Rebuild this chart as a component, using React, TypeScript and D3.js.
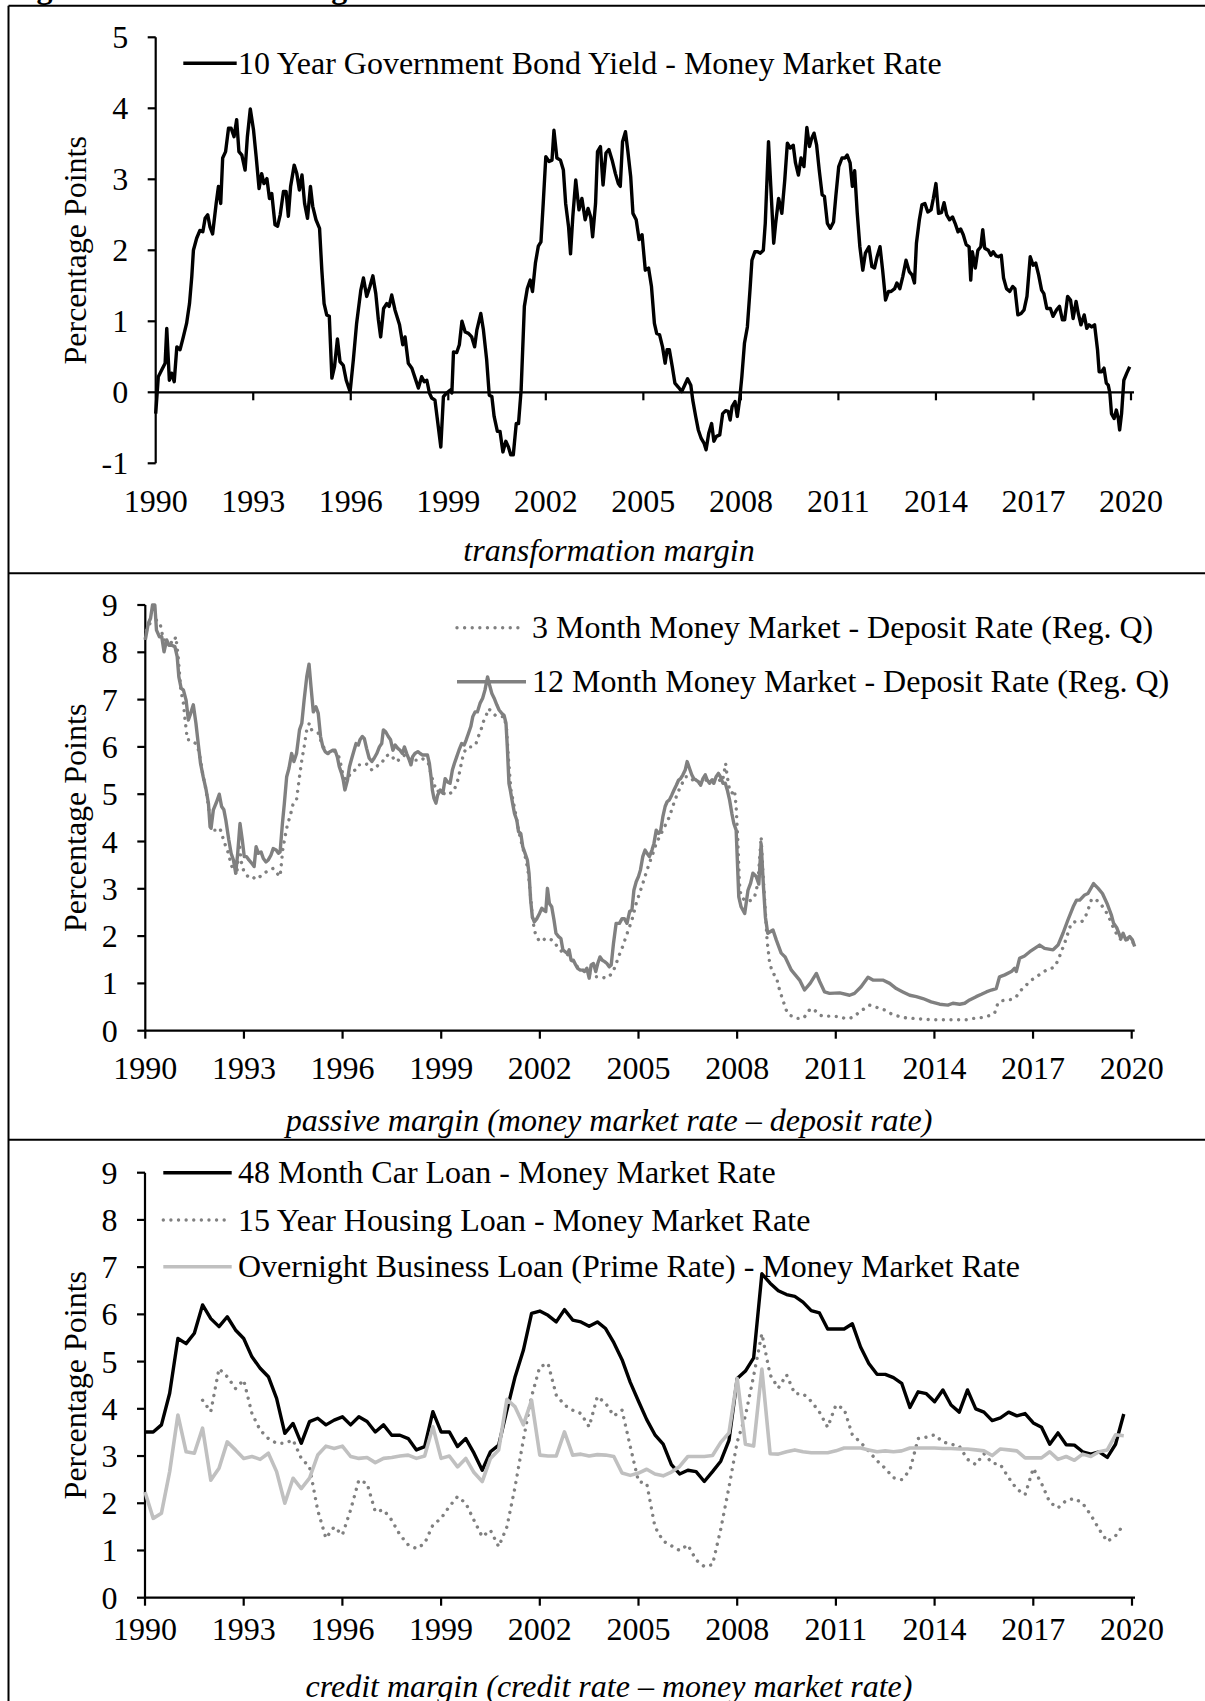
import React from "react";
import * as d3 from "d3";

const FONT = "'Liberation Serif', 'Times New Roman', Times, serif";

// ---------- data ----------
const yearTicks = [1990, 1993, 1996, 1999, 2002, 2005, 2008, 2011, 2014, 2017, 2020];
const panel1Ticks = [-1, 0, 1, 2, 3, 4, 5];
const rateTicks = [0, 1, 2, 3, 4, 5, 6, 7, 8, 9];

const legend1 = ["10 Year Government Bond Yield - Money Market Rate"];
const legend2 = ["3 Month Money Market - Deposit Rate (Reg. Q)", "12 Month Money Market - Deposit Rate (Reg. Q)"];
const legend3 = [
  "48 Month Car Loan - Money Market Rate",
  "15 Year Housing Loan - Money Market Rate",
  "Overnight Business Loan (Prime Rate) - Money Market Rate",
];
const captions = [
  "transformation margin",
  "passive margin (money market rate \u2013 deposit rate)",
  "credit margin (credit rate \u2013 money market rate)",
];

// [decimal year, percentage points]
const termSpread: [number, number][] = [
  [1990.0, -0.3], [1990.08, 0.22], [1990.18, 0.31], [1990.29, 0.41], [1990.34, 0.9], [1990.42, 0.17], [1990.49, 0.27], [1990.57, 0.15],
  [1990.65, 0.64], [1990.75, 0.6], [1990.85, 0.78], [1990.95, 0.97], [1991.04, 1.25], [1991.11, 1.63], [1991.16, 2.0], [1991.26, 2.17],
  [1991.36, 2.28], [1991.45, 2.26], [1991.52, 2.45], [1991.6, 2.5], [1991.67, 2.33], [1991.75, 2.23], [1991.86, 2.66], [1991.93, 2.9],
  [1992.0, 2.66], [1992.06, 3.3], [1992.15, 3.39], [1992.24, 3.72], [1992.32, 3.72], [1992.41, 3.6], [1992.49, 3.84], [1992.56, 3.39],
  [1992.65, 3.34], [1992.75, 3.13], [1992.82, 3.6], [1992.91, 3.99], [1993.01, 3.69], [1993.09, 3.32], [1993.18, 2.87], [1993.26, 3.08],
  [1993.33, 2.94], [1993.42, 3.01], [1993.5, 2.73], [1993.57, 2.8], [1993.67, 2.36], [1993.75, 2.34], [1993.83, 2.5], [1993.93, 2.83],
  [1994.01, 2.83], [1994.08, 2.48], [1994.15, 2.9], [1994.26, 3.2], [1994.34, 3.08], [1994.42, 2.85], [1994.5, 3.06], [1994.58, 2.66],
  [1994.67, 2.45], [1994.76, 2.9], [1994.83, 2.62], [1994.93, 2.43], [1995.04, 2.31], [1995.11, 1.72], [1995.18, 1.25], [1995.26, 1.09],
  [1995.34, 1.07], [1995.42, 0.2], [1995.5, 0.36], [1995.59, 0.75], [1995.67, 0.43], [1995.77, 0.38], [1995.86, 0.17], [1995.98, 0.01],
  [1996.08, 0.46], [1996.18, 0.97], [1996.31, 1.44], [1996.39, 1.61], [1996.49, 1.35], [1996.59, 1.49], [1996.68, 1.64], [1996.77, 1.39],
  [1996.85, 1.02], [1996.92, 0.78], [1997.01, 1.18], [1997.11, 1.25], [1997.18, 1.21], [1997.26, 1.37], [1997.36, 1.16], [1997.5, 0.95],
  [1997.6, 0.67], [1997.67, 0.78], [1997.77, 0.41], [1997.88, 0.34], [1997.98, 0.2], [1998.08, 0.06], [1998.18, 0.22], [1998.26, 0.15],
  [1998.34, 0.17], [1998.42, -0.01], [1998.49, -0.08], [1998.59, -0.11], [1998.68, -0.44], [1998.77, -0.77], [1998.85, -0.06], [1998.95, -0.01],
  [1999.06, 0.03], [1999.11, -0.01], [1999.16, 0.57], [1999.26, 0.56], [1999.34, 0.67], [1999.42, 1.0], [1999.52, 0.85], [1999.62, 0.83],
  [1999.72, 0.78], [1999.81, 0.64], [1999.88, 0.88], [2000.0, 1.11], [2000.08, 0.88], [2000.18, 0.46], [2000.26, -0.04], [2000.34, -0.06],
  [2000.41, -0.34], [2000.51, -0.55], [2000.59, -0.55], [2000.68, -0.84], [2000.77, -0.69], [2000.85, -0.77], [2000.92, -0.88], [2001.0, -0.88],
  [2001.09, -0.44], [2001.16, -0.44], [2001.24, 0.03], [2001.34, 1.21], [2001.43, 1.46], [2001.52, 1.58], [2001.59, 1.42], [2001.68, 1.82],
  [2001.77, 2.06], [2001.85, 2.12], [2001.92, 2.66], [2002.0, 3.32], [2002.1, 3.25], [2002.19, 3.27], [2002.25, 3.69], [2002.34, 3.3],
  [2002.45, 3.27], [2002.54, 3.13], [2002.61, 2.66], [2002.7, 2.33], [2002.76, 1.95], [2002.83, 2.47], [2002.92, 2.99], [2003.02, 2.57],
  [2003.11, 2.73], [2003.21, 2.43], [2003.3, 2.59], [2003.38, 2.47], [2003.44, 2.19], [2003.53, 2.66], [2003.59, 3.39], [2003.68, 3.46],
  [2003.76, 2.92], [2003.85, 3.37], [2003.94, 3.42], [2004.04, 3.27], [2004.14, 3.08], [2004.23, 2.94], [2004.29, 2.9], [2004.36, 3.53],
  [2004.45, 3.67], [2004.52, 3.41], [2004.61, 3.04], [2004.68, 2.52], [2004.78, 2.43], [2004.87, 2.15], [2004.96, 2.22], [2005.06, 1.72],
  [2005.16, 1.75], [2005.25, 1.49], [2005.34, 0.97], [2005.41, 0.83], [2005.5, 0.81], [2005.59, 0.64], [2005.67, 0.41], [2005.73, 0.6],
  [2005.8, 0.6], [2005.89, 0.36], [2005.97, 0.13], [2006.08, 0.07], [2006.18, 0.01], [2006.27, 0.1], [2006.36, 0.19], [2006.46, 0.1],
  [2006.52, -0.11], [2006.61, -0.34], [2006.69, -0.53], [2006.78, -0.65], [2006.87, -0.72], [2006.93, -0.81], [2007.01, -0.58], [2007.1, -0.44],
  [2007.17, -0.69], [2007.25, -0.62], [2007.35, -0.6], [2007.44, -0.3], [2007.53, -0.26], [2007.61, -0.27], [2007.67, -0.39], [2007.73, -0.2],
  [2007.82, -0.13], [2007.89, -0.34], [2007.96, -0.11], [2008.03, 0.22], [2008.11, 0.69], [2008.2, 0.92], [2008.28, 1.44], [2008.34, 1.86],
  [2008.43, 1.98], [2008.52, 1.98], [2008.6, 1.96], [2008.69, 2.0], [2008.75, 2.38], [2008.85, 3.53], [2008.92, 2.9], [2009.01, 2.1],
  [2009.07, 2.38], [2009.16, 2.73], [2009.26, 2.52], [2009.35, 2.99], [2009.43, 3.51], [2009.52, 3.44], [2009.61, 3.48], [2009.68, 3.23],
  [2009.77, 3.06], [2009.85, 3.3], [2009.94, 3.18], [2010.03, 3.73], [2010.11, 3.46], [2010.18, 3.58], [2010.25, 3.65], [2010.33, 3.48],
  [2010.41, 3.13], [2010.5, 2.78], [2010.57, 2.76], [2010.66, 2.38], [2010.75, 2.31], [2010.85, 2.4], [2010.92, 2.76], [2011.01, 3.18],
  [2011.11, 3.3], [2011.2, 3.3], [2011.27, 3.34], [2011.36, 3.23], [2011.43, 2.9], [2011.5, 3.12], [2011.58, 2.52], [2011.66, 2.05],
  [2011.75, 1.72], [2011.83, 1.96], [2011.94, 2.05], [2012.03, 1.77], [2012.11, 1.75], [2012.19, 1.91], [2012.28, 2.05], [2012.36, 1.72],
  [2012.45, 1.3], [2012.54, 1.42], [2012.62, 1.42], [2012.73, 1.46], [2012.8, 1.54], [2012.89, 1.46], [2012.98, 1.63], [2013.08, 1.86],
  [2013.18, 1.7], [2013.27, 1.65], [2013.34, 1.54], [2013.4, 2.1], [2013.49, 2.43], [2013.57, 2.64], [2013.66, 2.66], [2013.75, 2.54],
  [2013.85, 2.57], [2013.92, 2.73], [2014.0, 2.94], [2014.08, 2.52], [2014.17, 2.53], [2014.25, 2.67], [2014.33, 2.5], [2014.42, 2.43],
  [2014.51, 2.47], [2014.59, 2.38], [2014.68, 2.26], [2014.76, 2.3], [2014.84, 2.22], [2014.93, 2.08], [2015.02, 2.05], [2015.07, 1.58],
  [2015.12, 1.98], [2015.21, 1.75], [2015.29, 2.0], [2015.38, 2.05], [2015.44, 2.29], [2015.5, 2.03], [2015.61, 2.0], [2015.69, 1.93],
  [2015.76, 1.98], [2015.85, 1.92], [2015.92, 1.91], [2016.01, 1.93], [2016.08, 1.61], [2016.17, 1.46], [2016.27, 1.42], [2016.36, 1.49],
  [2016.43, 1.46], [2016.52, 1.09], [2016.62, 1.11], [2016.71, 1.16], [2016.8, 1.35], [2016.9, 1.91], [2016.99, 1.79], [2017.07, 1.82],
  [2017.16, 1.65], [2017.25, 1.44], [2017.32, 1.39], [2017.41, 1.18], [2017.52, 1.18], [2017.6, 1.07], [2017.71, 1.16], [2017.8, 1.21],
  [2017.89, 1.02], [2017.96, 1.02], [2018.05, 1.35], [2018.14, 1.3], [2018.22, 1.04], [2018.31, 1.28], [2018.38, 1.11], [2018.46, 0.95],
  [2018.56, 1.09], [2018.64, 0.9], [2018.71, 0.95], [2018.79, 0.92], [2018.88, 0.95], [2018.97, 0.6], [2019.02, 0.29], [2019.1, 0.29],
  [2019.17, 0.34], [2019.24, 0.13], [2019.3, 0.1], [2019.35, -0.01], [2019.4, -0.3], [2019.48, -0.37], [2019.55, -0.25], [2019.61, -0.37],
  [2019.65, -0.53], [2019.71, -0.3], [2019.78, 0.17], [2019.87, 0.27], [2019.96, 0.36],
];

const passive3M: [number, number][] = [
  [1990.0, 8.3], [1990.04, 8.47], [1990.14, 8.61], [1990.24, 8.65], [1990.34, 8.68], [1990.45, 8.61], [1990.55, 8.26], [1990.65, 8.26], [1990.75, 8.22],
  [1990.85, 8.19], [1990.93, 8.33], [1991.0, 7.91], [1991.08, 7.2], [1991.16, 6.92], [1991.21, 6.57], [1991.28, 6.15], [1991.36, 6.15],
  [1991.44, 6.11], [1991.54, 6.07], [1991.62, 5.93], [1991.68, 5.72], [1991.76, 5.37], [1991.85, 5.09], [1991.92, 4.74], [1992.0, 4.31],
  [1992.07, 4.24], [1992.17, 4.24], [1992.27, 4.28], [1992.35, 4.1], [1992.45, 3.89], [1992.53, 3.75], [1992.61, 3.5], [1992.7, 3.4],
  [1992.78, 3.29], [1992.86, 3.96], [1992.93, 3.54], [1993.0, 3.36], [1993.08, 3.29], [1993.18, 3.22], [1993.29, 3.22], [1993.39, 3.29],
  [1993.49, 3.26], [1993.59, 3.33], [1993.69, 3.36], [1993.79, 3.4], [1993.89, 3.43], [1994.0, 3.33], [1994.1, 3.26], [1994.18, 3.82],
  [1994.25, 4.1], [1994.33, 4.38], [1994.4, 4.52], [1994.5, 4.81], [1994.6, 4.88], [1994.69, 5.37], [1994.76, 5.72], [1994.83, 6.0],
  [1994.91, 6.36], [1994.99, 6.5], [1995.06, 6.36], [1995.16, 6.32], [1995.26, 6.29], [1995.37, 6.07], [1995.47, 5.93], [1995.57, 5.86],
  [1995.67, 5.93], [1995.77, 5.9], [1995.87, 5.83], [1995.94, 5.65], [1996.02, 5.37], [1996.11, 5.3], [1996.18, 5.37], [1996.28, 5.48],
  [1996.38, 5.51], [1996.48, 5.62], [1996.58, 5.62], [1996.68, 5.65], [1996.78, 5.62], [1996.89, 5.51], [1996.99, 5.55], [1997.09, 5.62],
  [1997.19, 5.65], [1997.29, 5.79], [1997.39, 5.83], [1997.49, 5.83], [1997.6, 5.69], [1997.7, 5.72], [1997.8, 5.79], [1997.9, 5.83],
  [1998.0, 5.79], [1998.1, 5.69], [1998.2, 5.72], [1998.31, 5.72], [1998.41, 5.76], [1998.51, 5.72], [1998.61, 5.65], [1998.71, 5.37],
  [1998.81, 5.16], [1998.88, 5.05], [1998.97, 5.09], [1999.07, 5.02], [1999.17, 4.98], [1999.27, 5.02], [1999.37, 5.05], [1999.45, 5.19],
  [1999.52, 5.33], [1999.59, 5.58], [1999.68, 5.86], [1999.76, 5.97], [1999.86, 6.0], [1999.96, 6.0], [2000.06, 6.07], [2000.13, 6.22],
  [2000.21, 6.36], [2000.28, 6.53], [2000.37, 6.67], [2000.44, 6.81], [2000.54, 6.74], [2000.64, 6.67], [2000.74, 6.64], [2000.84, 6.64],
  [2000.92, 6.64], [2000.99, 6.36], [2001.04, 5.79], [2001.12, 5.09], [2001.2, 4.81], [2001.28, 4.52], [2001.35, 4.24], [2001.42, 4.03],
  [2001.5, 3.82], [2001.58, 3.61], [2001.65, 3.33], [2001.72, 2.83], [2001.78, 2.34], [2001.86, 2.06], [2001.96, 1.92], [2002.06, 1.88],
  [2002.16, 1.95], [2002.26, 1.95], [2002.36, 1.92], [2002.46, 1.85], [2002.57, 1.74], [2002.67, 1.67], [2002.77, 1.63], [2002.87, 1.6],
  [2002.97, 1.49], [2003.07, 1.42], [2003.17, 1.32], [2003.28, 1.28], [2003.38, 1.28], [2003.48, 1.21], [2003.58, 1.18], [2003.68, 1.14],
  [2003.78, 1.14], [2003.88, 1.14], [2003.99, 1.11], [2004.09, 1.14], [2004.19, 1.21], [2004.29, 1.35], [2004.39, 1.56], [2004.52, 1.78],
  [2004.62, 1.99], [2004.73, 2.2], [2004.83, 2.41], [2004.93, 2.69], [2005.03, 2.9], [2005.13, 3.11], [2005.23, 3.33], [2005.33, 3.54],
  [2005.44, 3.75], [2005.54, 3.96], [2005.64, 4.1], [2005.74, 4.24], [2005.84, 4.38], [2005.94, 4.52], [2006.04, 4.74], [2006.15, 4.95],
  [2006.25, 5.12], [2006.35, 5.26], [2006.45, 5.37], [2006.55, 5.37], [2006.65, 5.3], [2006.75, 5.26], [2006.86, 5.23], [2006.96, 5.26],
  [2007.06, 5.3], [2007.16, 5.26], [2007.26, 5.3], [2007.36, 5.33], [2007.46, 5.3], [2007.55, 5.26], [2007.6, 5.44], [2007.65, 5.65],
  [2007.7, 5.37], [2007.77, 5.09], [2007.84, 5.02], [2007.92, 5.09], [2007.97, 4.74], [2008.02, 4.03], [2008.07, 3.11], [2008.12, 2.83],
  [2008.23, 2.76], [2008.33, 2.73], [2008.43, 2.76], [2008.53, 2.83], [2008.63, 3.11], [2008.73, 4.1], [2008.78, 3.4], [2008.85, 2.62],
  [2008.91, 1.92], [2008.99, 1.42], [2009.09, 1.21], [2009.19, 1.14], [2009.29, 0.86], [2009.39, 0.65], [2009.49, 0.44], [2009.59, 0.33],
  [2009.7, 0.3], [2009.8, 0.26], [2009.9, 0.26], [2010.0, 0.26], [2010.1, 0.33], [2010.2, 0.44], [2010.3, 0.47], [2010.41, 0.4],
  [2010.51, 0.33], [2010.66, 0.3], [2010.81, 0.31], [2010.96, 0.3], [2011.12, 0.3], [2011.27, 0.26], [2011.42, 0.26], [2011.57, 0.3],
  [2011.72, 0.4], [2011.88, 0.47], [2012.03, 0.54], [2012.18, 0.51], [2012.33, 0.47], [2012.48, 0.44], [2012.64, 0.37], [2012.79, 0.33],
  [2012.94, 0.3], [2013.14, 0.27], [2013.35, 0.26], [2013.55, 0.25], [2013.75, 0.24], [2013.96, 0.23], [2014.16, 0.23], [2014.36, 0.23],
  [2014.56, 0.23], [2014.77, 0.23], [2014.97, 0.23], [2015.17, 0.26], [2015.38, 0.27], [2015.58, 0.3], [2015.73, 0.33], [2015.83, 0.37],
  [2015.93, 0.58], [2016.03, 0.63], [2016.19, 0.65], [2016.34, 0.66], [2016.49, 0.72], [2016.64, 0.86], [2016.8, 0.97], [2016.95, 1.07],
  [2017.1, 1.14], [2017.25, 1.21], [2017.4, 1.28], [2017.56, 1.32], [2017.66, 1.35], [2017.76, 1.49], [2017.86, 1.67], [2017.96, 1.85],
  [2018.06, 2.06], [2018.16, 2.27], [2018.27, 2.3], [2018.37, 2.3], [2018.47, 2.3], [2018.57, 2.37], [2018.67, 2.55], [2018.77, 2.76],
  [2018.87, 2.8], [2018.98, 2.73], [2019.08, 2.66], [2019.18, 2.55], [2019.28, 2.45], [2019.38, 2.27], [2019.48, 2.13], [2019.58, 1.99],
  [2019.68, 1.92], [2019.79, 1.95], [2019.89, 1.92], [2019.99, 1.92], [2020.09, 1.81],
];

const passive12M: [number, number][] = [
  [1990.0, 8.26], [1990.09, 8.61], [1990.16, 8.72], [1990.22, 9.0], [1990.29, 9.0], [1990.34, 8.47], [1990.43, 8.33], [1990.5, 8.33],
  [1990.57, 8.01], [1990.65, 8.26], [1990.72, 8.15], [1990.8, 8.15], [1990.9, 8.12], [1990.97, 7.91], [1991.02, 7.48], [1991.09, 7.24],
  [1991.16, 7.2], [1991.24, 6.99], [1991.31, 6.57], [1991.38, 6.71], [1991.46, 6.89], [1991.54, 6.5], [1991.61, 6.07], [1991.68, 5.65],
  [1991.76, 5.37], [1991.85, 5.09], [1991.92, 4.81], [1991.97, 4.31], [1992.0, 4.28], [1992.07, 4.67], [1992.17, 4.84], [1992.25, 5.0],
  [1992.32, 4.74], [1992.39, 4.67], [1992.45, 4.45], [1992.54, 4.03], [1992.61, 3.75], [1992.68, 3.61], [1992.75, 3.33], [1992.81, 3.75],
  [1992.88, 4.38], [1992.95, 4.03], [1993.01, 3.68], [1993.08, 3.68], [1993.15, 3.61], [1993.24, 3.54], [1993.31, 3.47], [1993.37, 3.89],
  [1993.44, 3.75], [1993.52, 3.78], [1993.59, 3.64], [1993.67, 3.57], [1993.74, 3.61], [1993.82, 3.71], [1993.89, 3.85], [1993.98, 3.82],
  [1994.05, 3.75], [1994.1, 3.78], [1994.17, 4.38], [1994.23, 4.81], [1994.3, 5.37], [1994.37, 5.55], [1994.45, 5.86], [1994.52, 5.69],
  [1994.6, 5.86], [1994.69, 6.36], [1994.76, 6.5], [1994.83, 6.99], [1994.91, 7.48], [1994.98, 7.75], [1995.04, 7.27], [1995.11, 6.74],
  [1995.19, 6.85], [1995.26, 6.71], [1995.33, 6.22], [1995.4, 6.0], [1995.47, 5.9], [1995.54, 5.86], [1995.62, 5.9], [1995.7, 5.93],
  [1995.77, 5.93], [1995.84, 5.79], [1995.9, 5.58], [1995.97, 5.44], [1996.02, 5.3], [1996.07, 5.09], [1996.15, 5.3], [1996.21, 5.58],
  [1996.28, 5.76], [1996.35, 5.93], [1996.41, 6.07], [1996.48, 6.04], [1996.53, 6.15], [1996.6, 6.22], [1996.66, 6.18], [1996.73, 5.97],
  [1996.81, 5.76], [1996.89, 5.69], [1996.96, 5.76], [1997.04, 5.86], [1997.12, 6.0], [1997.19, 6.07], [1997.24, 6.36], [1997.31, 6.32],
  [1997.39, 6.22], [1997.46, 6.15], [1997.53, 5.93], [1997.6, 6.04], [1997.68, 5.97], [1997.75, 5.93], [1997.82, 5.86], [1997.88, 6.0],
  [1997.95, 5.86], [1998.03, 5.72], [1998.08, 5.62], [1998.13, 5.79], [1998.2, 5.86], [1998.29, 5.9], [1998.36, 5.86], [1998.43, 5.83],
  [1998.51, 5.83], [1998.58, 5.83], [1998.64, 5.65], [1998.69, 5.37], [1998.73, 5.09], [1998.78, 4.91], [1998.84, 4.81], [1998.89, 4.98],
  [1998.97, 5.09], [1999.05, 5.02], [1999.12, 5.33], [1999.19, 5.26], [1999.27, 5.23], [1999.34, 5.51], [1999.4, 5.65], [1999.47, 5.79],
  [1999.54, 5.93], [1999.62, 6.07], [1999.7, 6.04], [1999.76, 6.15], [1999.83, 6.29], [1999.9, 6.43], [1999.96, 6.64], [2000.03, 6.74],
  [2000.1, 6.74], [2000.18, 6.92], [2000.26, 7.03], [2000.33, 7.2], [2000.41, 7.48], [2000.47, 7.31], [2000.54, 7.13], [2000.61, 7.03],
  [2000.69, 6.89], [2000.76, 6.78], [2000.84, 6.71], [2000.91, 6.67], [2000.97, 6.5], [2001.01, 6.0], [2001.06, 5.23], [2001.1, 5.09],
  [2001.17, 4.81], [2001.23, 4.59], [2001.3, 4.45], [2001.35, 4.21], [2001.42, 4.17], [2001.48, 3.89], [2001.55, 3.75], [2001.62, 3.61],
  [2001.67, 3.33], [2001.72, 2.76], [2001.77, 2.41], [2001.83, 2.3], [2001.91, 2.37], [2001.99, 2.48], [2002.06, 2.59], [2002.11, 2.55],
  [2002.18, 2.52], [2002.23, 3.01], [2002.29, 2.69], [2002.36, 2.62], [2002.43, 2.34], [2002.49, 2.06], [2002.57, 1.99], [2002.64, 1.95],
  [2002.7, 1.71], [2002.77, 1.67], [2002.84, 1.63], [2002.89, 1.71], [2002.95, 1.49], [2003.02, 1.49], [2003.09, 1.39], [2003.15, 1.32],
  [2003.23, 1.28], [2003.3, 1.28], [2003.36, 1.25], [2003.43, 1.32], [2003.5, 1.11], [2003.56, 1.39], [2003.63, 1.42], [2003.7, 1.25],
  [2003.76, 1.42], [2003.83, 1.56], [2003.9, 1.49], [2003.97, 1.46], [2004.04, 1.42], [2004.11, 1.35], [2004.17, 1.39], [2004.24, 1.85],
  [2004.32, 2.27], [2004.42, 2.27], [2004.5, 2.37], [2004.57, 2.37], [2004.65, 2.27], [2004.73, 2.52], [2004.8, 2.55], [2004.86, 2.97],
  [2004.93, 3.15], [2005.0, 3.26], [2005.06, 3.4], [2005.13, 3.68], [2005.2, 3.82], [2005.26, 3.75], [2005.33, 3.68], [2005.41, 3.82],
  [2005.47, 3.96], [2005.54, 4.24], [2005.61, 4.17], [2005.67, 4.21], [2005.74, 4.52], [2005.81, 4.74], [2005.87, 4.84], [2005.94, 4.88],
  [2006.01, 4.98], [2006.08, 5.09], [2006.15, 5.19], [2006.22, 5.3], [2006.28, 5.33], [2006.35, 5.41], [2006.42, 5.51], [2006.48, 5.69],
  [2006.55, 5.55], [2006.62, 5.41], [2006.68, 5.33], [2006.75, 5.3], [2006.83, 5.26], [2006.89, 5.19], [2006.96, 5.33], [2007.03, 5.41],
  [2007.09, 5.3], [2007.16, 5.23], [2007.23, 5.3], [2007.29, 5.23], [2007.36, 5.37], [2007.43, 5.44], [2007.49, 5.37], [2007.57, 5.23],
  [2007.64, 5.23], [2007.7, 5.09], [2007.77, 4.88], [2007.84, 4.59], [2007.9, 4.38], [2007.97, 4.24], [2008.05, 2.83], [2008.12, 2.62],
  [2008.23, 2.48], [2008.33, 2.97], [2008.41, 3.12], [2008.48, 3.33], [2008.58, 3.26], [2008.66, 3.1], [2008.73, 3.95], [2008.8, 3.05],
  [2008.86, 2.4], [2008.93, 2.06], [2009.09, 2.13], [2009.19, 1.92], [2009.34, 1.64], [2009.46, 1.56], [2009.65, 1.28], [2009.9, 1.07],
  [2010.05, 0.86], [2010.22, 1.0], [2010.41, 1.21], [2010.51, 1.04], [2010.66, 0.82], [2010.81, 0.79], [2011.12, 0.8], [2011.42, 0.75],
  [2011.57, 0.79], [2011.77, 0.93], [2011.98, 1.13], [2012.13, 1.07], [2012.43, 1.07], [2012.64, 1.0], [2012.84, 0.89], [2013.04, 0.82],
  [2013.25, 0.75], [2013.45, 0.72], [2013.65, 0.68], [2013.9, 0.61], [2014.16, 0.56], [2014.41, 0.54], [2014.56, 0.58], [2014.77, 0.56],
  [2014.92, 0.58], [2015.07, 0.65], [2015.27, 0.72], [2015.43, 0.77], [2015.58, 0.82], [2015.73, 0.86], [2015.88, 0.89], [2015.98, 1.14],
  [2016.14, 1.18], [2016.34, 1.25], [2016.44, 1.32], [2016.49, 1.25], [2016.59, 1.53], [2016.74, 1.58], [2016.9, 1.67], [2017.05, 1.74],
  [2017.2, 1.81], [2017.35, 1.74], [2017.61, 1.71], [2017.76, 1.81], [2017.91, 2.06], [2018.06, 2.34], [2018.22, 2.62], [2018.32, 2.76],
  [2018.42, 2.76], [2018.57, 2.87], [2018.67, 2.9], [2018.84, 3.11], [2018.98, 3.01], [2019.11, 2.9], [2019.25, 2.69], [2019.38, 2.45],
  [2019.45, 2.27], [2019.55, 2.17], [2019.67, 1.95], [2019.74, 2.06], [2019.82, 1.92], [2019.94, 1.99], [2020.02, 1.92], [2020.09, 1.78],
];

// quarterly series
const carLoanStart = 1990.0;
const carLoan = [
  3.51, 3.51, 3.66, 4.33, 5.49, 5.38, 5.6, 6.2, 5.91, 5.74, 5.95, 5.67, 5.49, 5.1, 4.86, 4.68,
  4.22, 3.48, 3.69, 3.27, 3.73, 3.8, 3.66, 3.76, 3.83, 3.66, 3.83, 3.73, 3.51, 3.66, 3.44, 3.44,
  3.37, 3.13, 3.2, 3.94, 3.51, 3.51, 3.2, 3.37, 3.06, 2.7, 3.09, 3.23, 3.97, 4.68, 5.24, 6.02,
  6.07, 5.98, 5.84, 6.1, 5.88, 5.84, 5.75, 5.84, 5.7, 5.4, 5.04, 4.56, 4.16, 3.77, 3.45, 3.25,
  2.82, 2.62, 2.7, 2.67, 2.46, 2.67, 2.89, 3.33, 4.64, 4.8, 5.08, 6.86, 6.66, 6.5, 6.42, 6.38,
  6.26, 6.08, 6.03, 5.69, 5.69, 5.69, 5.8, 5.31, 4.96, 4.73, 4.73, 4.66, 4.54, 4.03, 4.36, 4.32,
  4.15, 4.4, 4.08, 3.93, 4.4, 4.0, 3.93, 3.75, 3.81, 3.93, 3.85, 3.9, 3.7, 3.61, 3.25, 3.49,
  3.24, 3.23, 3.09, 3.04, 3.09, 2.97, 3.25, 3.89,
];
const housingLoanStart = 1991.75;
const housingLoan = [
  4.18, 3.94, 4.85, 4.68, 4.43, 4.61, 3.9, 3.55, 3.37, 3.27, 3.27, 3.34, 2.95, 2.77, 1.85, 1.26,
  1.5, 1.33, 1.86, 2.49, 2.42, 1.82, 1.86, 1.64, 1.33, 1.12, 1.04, 1.15, 1.54, 1.68, 1.93, 2.14,
  2.0, 1.64, 1.29, 1.43, 1.08, 1.5, 2.35, 3.34, 4.26, 4.89, 4.96, 4.29, 4.08, 3.97, 3.9, 3.62,
  4.26, 4.12, 3.85, 3.97, 3.2, 2.46, 2.42, 1.5, 1.2, 1.1, 1.0, 1.12, 0.8, 0.66, 0.7, 1.45,
  2.34, 3.3, 3.85, 4.7, 5.59, 4.72, 4.44, 4.72, 4.32, 4.32, 4.16, 3.93, 3.61, 4.08, 4.0, 3.45,
  3.29, 3.1, 2.9, 2.74, 2.54, 2.5, 2.7, 3.37, 3.4, 3.45, 3.3, 3.25, 3.21, 2.93, 2.82, 3.05,
  2.85, 2.82, 2.54, 2.3, 2.18, 2.74, 2.42, 2.02, 1.9, 2.06, 2.1, 2.0, 1.75, 1.45, 1.19, 1.31,
  1.55,
];
const primeLoanStart = 1990.0;
const primeLoan = [
  2.24, 1.68, 1.79, 2.67, 3.87, 3.09, 3.06, 3.59, 2.49, 2.74, 3.3, 3.13, 2.95, 2.99, 2.93, 3.06,
  2.67, 2.0, 2.53, 2.31, 2.53, 3.02, 3.21, 3.16, 3.21, 2.99, 2.95, 2.97, 2.86, 2.95, 2.97, 3.0,
  3.02, 2.95, 3.0, 3.62, 2.95, 3.0, 2.77, 2.95, 2.65, 2.46, 2.95, 3.13, 4.2, 4.04, 3.66, 4.18,
  3.02, 3.0, 3.0, 3.51, 3.02, 3.04, 3.0, 3.03, 3.02, 2.99, 2.64, 2.59, 2.64, 2.72, 2.62, 2.58,
  2.66, 2.78, 2.99, 2.99, 2.99, 3.01, 3.29, 3.49, 4.64, 3.25, 3.21, 4.84, 3.05, 3.04, 3.09, 3.13,
  3.09, 3.07, 3.07, 3.07, 3.11, 3.17, 3.17, 3.17, 3.13, 3.09, 3.11, 3.09, 3.11, 3.17, 3.17, 3.17,
  3.17, 3.16, 3.16, 3.15, 3.15, 3.13, 3.11, 3.01, 3.15, 3.13, 3.11, 2.96, 2.96, 2.96, 3.09, 2.93,
  2.99, 2.91, 3.04, 2.99, 3.09, 3.13, 3.45, 3.43,
];

const quarterly = (start: number, vals: number[]): [number, number][] =>
  vals.map((v, i) => [start + i * 0.25, v]);

// ---------- drawing helpers ----------
const BLACK = "#000";
const GREY = "#808080";
const LIGHT = "#c0c0c0";
const DOTS = "0.01 7.6";

type Scale = d3.ScaleLinear<number, number>;

function YAxis({ x, y, ticks }: { x: number; y: Scale; ticks: number[] }) {
  return (
    <g>
      <line x1={x} x2={x} y1={y(ticks[0])} y2={y(ticks[ticks.length - 1])} stroke={BLACK} strokeWidth={2.2} />
      {ticks.map((t) => (
        <g key={t}>
          <line x1={x - 8} x2={x} y1={y(t)} y2={y(t)} stroke={BLACK} strokeWidth={2.2} />
          <text x={x - 27.5} y={y(t) + 11} textAnchor="end">{String(t)}</text>
        </g>
      ))}
    </g>
  );
}

function XAxis({ x, yLine, yLabel, ticks, skipFirstTick }: { x: Scale; yLine: number; yLabel: number; ticks: number[]; skipFirstTick?: boolean }) {
  return (
    <g>
      <line x1={x(ticks[0])} x2={x(ticks[ticks.length - 1]) + 3} y1={yLine} y2={yLine} stroke={BLACK} strokeWidth={2.2} />
      {ticks.map((t, i) => (
        <g key={t}>
          {!(skipFirstTick && i === 0) && (
            <line x1={x(t)} x2={x(t)} y1={yLine} y2={yLine + 8} stroke={BLACK} strokeWidth={2.2} />
          )}
          <text x={x(t)} y={yLabel} textAnchor="middle">{String(t)}</text>
        </g>
      ))}
    </g>
  );
}

function Series({ data, x, y, color, width, dash }: { data: [number, number][]; x: Scale; y: Scale; color: string; width: number; dash?: string }) {
  const gen = d3.line<[number, number]>().x((d) => x(d[0])).y((d) => y(d[1]));
  return (
    <path
      d={gen(data) || ""}
      fill="none"
      stroke={color}
      strokeWidth={width}
      strokeLinejoin="round"
      strokeLinecap={dash ? "round" : "butt"}
      strokeDasharray={dash}
    />
  );
}

function LegendItem({ x1, x2, tx, y, color, width, dash, label }: { x1: number; x2: number; tx: number; y: number; color: string; width: number; dash?: string; label: string }) {
  return (
    <g>
      <line x1={x1} x2={x2} y1={y} y2={y} stroke={color} strokeWidth={width} strokeLinecap={dash ? "round" : "butt"} strokeDasharray={dash} />
      <text x={tx} y={y + 10.5}>{label}</text>
    </g>
  );
}

export default function App() {
  // panel 1
  const x1 = d3.scaleLinear().domain([1990, 2020]).range([155.7, 1131]);
  const y1 = d3.scaleLinear().domain([-1, 5]).range([463.3, 37.3]);
  // panel 2
  const x2 = d3.scaleLinear().domain([1990, 2020]).range([145.3, 1131.7]);
  const y2 = d3.scaleLinear().domain([0, 9]).range([1030.7, 605]);
  // panel 3
  const x3 = d3.scaleLinear().domain([1990, 2020]).range([145, 1132]);
  const y3 = d3.scaleLinear().domain([0, 9]).range([1597.7, 1172.7]);

  const W = 1205;
  const H = 1701;

  return (
    <svg
      width={W}
      height={H}
      viewBox={`0 0 ${W} ${H}`}
      style={{ position: "absolute", left: 0, top: 0, background: "#fff" }}
      fontFamily={FONT}
      fontSize={32}
      fill={BLACK}
    >
      <rect x={0} y={0} width={W} height={H} fill="#fff" />
      {/* cut-off figure title */}
      <text x={8} y={-2} fontWeight="bold">Figure 10: Interest Margins</text>

      {/* frame */}
      <line x1={8.5} x2={8.5} y1={5.7} y2={H} stroke={BLACK} strokeWidth={2} />
      <line x1={8.5} x2={W} y1={5.7} y2={5.7} stroke={BLACK} strokeWidth={2} />
      <line x1={8.5} x2={W} y1={573.3} y2={573.3} stroke={BLACK} strokeWidth={2} />
      <line x1={8.5} x2={W} y1={1139.7} y2={1139.7} stroke={BLACK} strokeWidth={2} />

      {/* ---- panel 1 ---- */}
      <YAxis x={x1(1990)} y={y1} ticks={panel1Ticks} />
      <XAxis x={x1} yLine={y1(0)} yLabel={512} ticks={yearTicks} skipFirstTick />
      <Series data={termSpread} x={x1} y={y1} color={BLACK} width={3.4} />
      <LegendItem x1={183.3} x2={236.7} tx={238} y={63.3} color={BLACK} width={3.6} label={legend1[0]} />
      <text x={86} y={(y1(5) + y1(-1)) / 2} transform={`rotate(-90 86 ${(y1(5) + y1(-1)) / 2})`} textAnchor="middle">Percentage Points</text>
      <text x={609} y={561} textAnchor="middle" fontStyle="italic">{captions[0]}</text>

      {/* ---- panel 2 ---- */}
      <YAxis x={x2(1990)} y={y2} ticks={rateTicks} />
      <XAxis x={x2} yLine={y2(0)} yLabel={1078.5} ticks={yearTicks} />
      <Series data={passive3M} x={x2} y={y2} color={GREY} width={3.4} dash={DOTS} />
      <Series data={passive12M} x={x2} y={y2} color={GREY} width={3.4} />
      <LegendItem x1={457} x2={524} tx={532} y={627.7} color={GREY} width={3.4} dash={DOTS} label={legend2[0]} />
      <LegendItem x1={457} x2={526} tx={532} y={681.7} color={GREY} width={3.6} label={legend2[1]} />
      <text x={86} y={(y2(9) + y2(0)) / 2} transform={`rotate(-90 86 ${(y2(9) + y2(0)) / 2})`} textAnchor="middle">Percentage Points</text>
      <text x={609} y={1131} textAnchor="middle" fontStyle="italic">{captions[1]}</text>

      {/* ---- panel 3 ---- */}
      <YAxis x={x3(1990)} y={y3} ticks={rateTicks} />
      <XAxis x={x3} yLine={y3(0)} yLabel={1640} ticks={yearTicks} />
      <Series data={quarterly(carLoanStart, carLoan)} x={x3} y={y3} color={BLACK} width={3.4} />
      <Series data={quarterly(housingLoanStart, housingLoan)} x={x3} y={y3} color={GREY} width={3.4} dash={DOTS} />
      <Series data={quarterly(primeLoanStart, primeLoan)} x={x3} y={y3} color={LIGHT} width={3.6} />
      <LegendItem x1={163.3} x2={231.7} tx={238} y={1172.7} color={BLACK} width={3.6} label={legend3[0]} />
      <LegendItem x1={163.3} x2={231.7} tx={238} y={1220} color={GREY} width={3.4} dash={DOTS} label={legend3[1]} />
      <LegendItem x1={163.3} x2={231.7} tx={238} y={1266.7} color={LIGHT} width={3.6} label={legend3[2]} />
      <text x={86} y={(y3(9) + y3(0)) / 2} transform={`rotate(-90 86 ${(y3(9) + y3(0)) / 2})`} textAnchor="middle">Percentage Points</text>
      <text x={609} y={1697} textAnchor="middle" fontStyle="italic">{captions[2]}</text>
    </svg>
  );
}
